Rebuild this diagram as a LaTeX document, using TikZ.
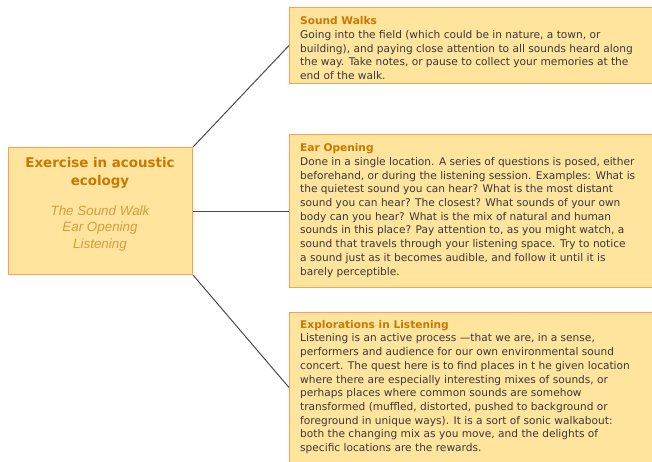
\documentclass[tikz,border=0pt]{standalone}
\usepackage{fontspec}
\setmainfont{DejaVu Sans}
\newfontfamily\subfont{Liberation Sans}
\definecolor{boxfill}{HTML}{FFE49E}
\definecolor{boxline}{HTML}{FFA050}
\definecolor{headcol}{HTML}{C97800}
\definecolor{subcol}{HTML}{D99B3C}
\definecolor{bodycol}{HTML}{383838}
\definecolor{linkcol}{HTML}{4A4A4A}
\tikzset{
  topicbox/.style={draw=boxline,fill=boxfill,line width=1pt,inner sep=0pt,anchor=north west},
  bodytext/.style={anchor=north west,align=left,inner sep=0pt,text=bodycol,
    font=\fontsize{10.6}{13.7}\selectfont},
  link/.style={draw=linkcol,line width=1pt}
}
\begin{document}
\begin{tikzpicture}[x=1pt,y=-1pt]
  \useasboundingbox (0,0) rectangle (652,461);
  \clip (0,0) rectangle (652,461);

  % boxes
  \node[topicbox,minimum width=184pt,minimum height=127pt] (hub) at (8,147) {};
  \node[topicbox,minimum width=375pt,minimum height=76pt] (walks) at (289,7) {};
  \node[topicbox,minimum width=375pt,minimum height=153pt] (ear) at (289,134) {};
  \node[topicbox,minimum width=375pt,minimum height=150pt] (explore) at (289,312) {};

  \draw[link] (hub.north east) -- (walks.west);
  \draw[link] (hub.east) -- (ear.west);
  \draw[link] (hub.south east) -- (explore.west);

  \node[font=\bfseries\fontsize{13.4}{18}\selectfont,text=headcol,align=center] (hubtitle) at (100,172.5) {Exercise in acoustic\\ecology};
  \node[font=\subfont\itshape\fontsize{13.4}{16.4}\selectfont,text=subcol,align=center] (hubsub) at (100,228.5) {The Sound Walk\\Ear Opening\\Listening};

  \begin{scope}
    \clip (walks.north west) rectangle ([yshift=6pt]walks.south east);
    \node[bodytext] (walkstext) at (300,16.5) {\textcolor{headcol}{\bfseries Sound Walks}\\
      Going into the field (which could be in nature, a town, or\\
      building), and paying close attention to all sounds heard along\\
      the way. Take notes, or pause to collect your memories at the\\
      end of the walk.};
  \end{scope}

  \node[bodytext] (eartext) at (300,143.5) {\textcolor{headcol}{\bfseries Ear Opening}\\
    Done in a single location. A series of questions is posed, either\\
    beforehand, or during the listening session. Examples: What is\\
    the quietest sound you can hear? What is the most distant\\
    sound you can hear? The closest? What sounds of your own\\
    body can you hear? What is the mix of natural and human\\
    sounds in this place? Pay attention to, as you might watch, a\\
    sound that travels through your listening space. Try to notice\\
    a sound just as it becomes audible, and follow it until it is\\
    barely perceptible.};

  \node[bodytext] (exploretext) at (300,320) {\textcolor{headcol}{\bfseries Explorations in Listening}\\
    Listening is an active process —that we are, in a sense,\\
    performers and audience for our own environmental sound\\
    concert. The quest here is to find places in t he given location\\
    where there are especially interesting mixes of sounds, or\\
    perhaps places where common sounds are somehow\\
    transformed (muffled, distorted, pushed to background or\\
    foreground in unique ways). It is a sort of sonic walkabout:\\
    both the changing mix as you move, and the delights of\\
    specific locations are the rewards.};
\end{tikzpicture}
\end{document}
